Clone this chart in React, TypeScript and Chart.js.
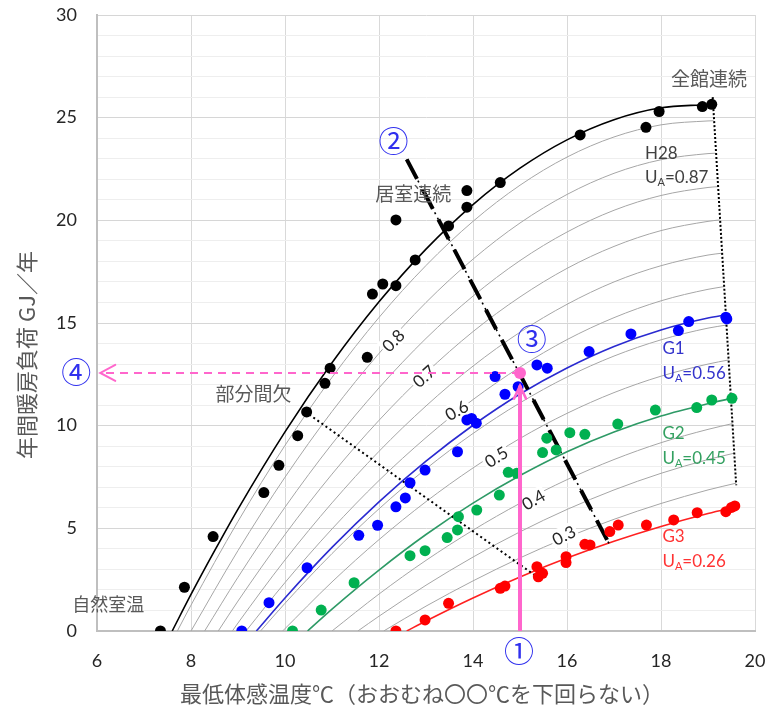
import React, { useEffect, useRef } from 'react';
import { Chart, registerables } from 'chart.js';
Chart.register(...registerables);

// ---------- measured points ----------
const h28Points: number[][] = [
  [7.35, 0], [7.86, 2.13], [8.47, 4.6], [9.55, 6.74], [9.87, 8.07], [10.27, 9.51], [10.46, 10.67],
  [10.85, 12.06], [10.96, 12.8], [11.75, 13.33], [11.86, 16.41], [12.08, 16.9], [12.36, 16.82],
  [12.77, 18.07], [12.36, 20.02], [13.48, 19.73], [13.87, 20.64], [13.87, 21.45], [14.58, 21.84],
  [16.28, 24.16], [17.68, 24.53], [17.96, 25.3], [18.88, 25.54], [19.08, 25.65],
];
const g1Points: number[][] = [
  [9.08, 0], [9.66, 1.38], [10.47, 3.08], [11.57, 4.66], [11.97, 5.15], [12.36, 6.05], [12.56, 6.48],
  [12.66, 7.22], [12.98, 7.84], [13.67, 8.73], [13.87, 10.28], [13.97, 10.35], [14.07, 10.12],
  [14.47, 12.39], [14.68, 11.53], [14.96, 11.9], [15.36, 12.96], [15.58, 12.8], [16.47, 13.61],
  [17.36, 14.47], [18.37, 14.63], [18.59, 15.07], [19.38, 15.28], [19.4, 15.2],
];
const g2Points: number[][] = [
  [10.16, 0], [10.77, 1.02], [11.47, 2.35], [12.66, 3.67], [12.98, 3.91], [13.45, 4.55], [13.67, 4.92],
  [13.69, 5.57], [14.08, 5.89], [14.56, 6.62], [14.75, 7.73], [14.93, 7.68], [15.48, 8.69], [15.57, 9.39],
  [15.77, 8.82], [16.06, 9.66], [16.38, 9.58], [17.08, 10.08], [17.88, 10.76], [18.76, 10.88],
  [19.08, 11.25], [19.51, 11.33],
];
const g3Points: number[][] = [
  [12.36, 0], [12.98, 0.54], [13.48, 1.35], [14.58, 2.08], [14.68, 2.19], [15.36, 3.13], [15.39, 2.64],
  [15.48, 2.81], [15.98, 3.62], [15.98, 3.33], [16.38, 4.22], [16.49, 4.19], [16.91, 4.84], [17.09, 5.16],
  [17.69, 5.16], [18.27, 5.41], [18.77, 5.76], [19.38, 5.81], [19.5, 6.02], [19.57, 6.09],
];

// ---------- fitted curves ----------
const fitH28: number[][] = [[7.6, 0], [8, 1.78], [8.5, 3.9], [9, 5.94], [10, 9.7], [11, 13.06], [12, 16.03], [13, 18.6], [14, 20.77], [15, 22.54], [16, 23.92], [17, 24.9], [18, 25.48], [19, 25.64], [19.1, 25.66]];
const fitG1: number[][] = [[9.39, 0], [10, 1.61], [11, 4.07], [12, 6.29], [13, 8.27], [14, 10.02], [15, 11.54], [16, 12.81], [17, 13.86], [18, 14.66], [19, 15.24], [19.4, 15.4]];
const fitG2: number[][] = [[10.48, 0], [11, 1.07], [12, 2.97], [13, 4.7], [14, 6.23], [15, 7.57], [16, 8.73], [17, 9.69], [18, 10.47], [19, 11.07], [19.5, 11.33]];
const fitG3: number[][] = [[12.59, 0], [13, 0.49], [14, 1.61], [15, 2.63], [16, 3.55], [17, 4.37], [18, 5.09], [19, 5.72], [19.6, 6.05]];

// ---------- iso-UA contour lines (gray) ----------
const ua085: number[][] = [[7.71, 0], [8, 1.26], [9, 5.34], [10, 9.04], [11, 12.35], [12, 15.27], [13, 17.8], [14, 19.95], [15, 21.71], [16, 23.08], [17, 24.06], [18, 24.65], [19, 24.84], [19.12, 24.85]];
const ua080: number[][] = [[8.0, 0], [9, 3.92], [10, 7.49], [11, 10.69], [12, 13.52], [13, 16.0], [14, 18.11], [15, 19.87], [16, 21.26], [17, 22.29], [18, 22.95], [19, 23.25], [19.16, 23.27]];
const ua075: number[][] = [[8.29, 0], [9, 2.62], [10, 6.03], [11, 9.11], [12, 11.84], [13, 14.25], [14, 16.31], [15, 18.04], [16, 19.43], [17, 20.49], [18, 21.21], [19, 21.6], [19.21, 21.64]];
const ua070: number[][] = [[8.58, 0], [9, 1.46], [10, 4.7], [11, 7.64], [12, 10.26], [13, 12.57], [14, 14.58], [15, 16.27], [16, 17.66], [17, 18.73], [18, 19.5], [19, 19.95], [19.25, 20.02]];
const ua065: number[][] = [[8.88, 0], [9, 0.39], [10, 3.46], [11, 6.24], [12, 8.75], [13, 10.96], [14, 12.9], [15, 14.55], [16, 15.91], [17, 17.0], [18, 17.79], [19, 18.31], [19.3, 18.4]];
const ua060: number[][] = [[9.17, 0], [10, 2.36], [11, 4.97], [12, 7.33], [13, 9.42], [14, 11.27], [15, 12.85], [16, 14.19], [17, 15.26], [18, 16.08], [19, 16.64], [19.34, 16.77]];
const ua055: number[][] = [[9.48, 0], [10, 1.35], [11, 3.77], [12, 5.95], [13, 7.9], [14, 9.62], [15, 11.11], [16, 12.37], [17, 13.39], [18, 14.18], [19, 14.75], [19.39, 14.9]];
const ua050: number[][] = [[9.95, 0], [11, 2.39], [12, 4.45], [13, 6.3], [14, 7.94], [15, 9.38], [16, 10.6], [17, 11.61], [18, 12.41], [19, 13.0], [19.44, 13.2]];
const ua040: number[][] = [[11.0, 0], [12, 1.8], [13, 3.44], [14, 4.91], [15, 6.22], [16, 7.37], [17, 8.35], [18, 9.17], [19, 9.82], [19.52, 10.1]];
const ua035: number[][] = [[11.55, 0], [12, 0.72], [13, 2.23], [14, 3.6], [15, 4.83], [16, 5.92], [17, 6.87], [18, 7.68], [19, 8.35], [19.56, 8.66]];
const ua030: number[][] = [[12.1, 0], [13, 1.21], [14, 2.44], [15, 3.56], [16, 4.56], [17, 5.44], [18, 6.21], [19, 6.87], [19.6, 7.2]];
const contours = [ua085, ua080, ua075, ua070, ua065, ua060, ua055, ua050, ua040, ua035, ua030];

// contour labels: text, x, y, angle(deg)
const contourLabels: [string, number, number, number][] = [
  ['0.8', 12.3, 14.16, -45], ['0.7', 12.95, 12.42, -42], ['0.6', 13.65, 10.76, -30],
  ['0.5', 14.49, 8.49, -32], ['0.4', 15.28, 6.41, -30], ['0.3', 15.93, 4.67, -27],
];

// ---------- guide lines ----------
const guideDashed: number[][] = [[12.59, 22.97], [16.91, 4.19]];
const guideRight: number[][] = [[19.1, 26.0], [19.6, 7.1]];
const guidePartial: number[][] = [[10.43, 10.68], [15.36, 2.64]];
const pinkUp: number[][] = [[15.0, 0], [15.0, 11.95]];
const pinkLeft: number[][] = [[15.0, 12.57], [6.07, 12.57]];
const pinkDot: number[][] = [[15.0, 12.57]];

const PINK = '#ff66cc';
const toXY = (a: number[][]) => a.map(([x, y]) => ({ x, y }));

function arrowHead(ctx: CanvasRenderingContext2D, x0: number, y0: number, x1: number, y1: number, len: number, half: number, color: string, width: number) {
  const ang = Math.atan2(y1 - y0, x1 - x0);
  const c = Math.cos(ang), s = Math.sin(ang);
  ctx.save();
  ctx.strokeStyle = color; ctx.lineWidth = width; ctx.lineCap = 'round'; ctx.lineJoin = 'miter';
  ctx.beginPath();
  ctx.moveTo(x1 - len * c + half * s, y1 - len * s - half * c);
  ctx.lineTo(x1, y1);
  ctx.lineTo(x1 - len * c - half * s, y1 - len * s + half * c);
  ctx.stroke();
  ctx.restore();
}

function drawUA(ctx: CanvasRenderingContext2D, x: number, y: number, val: string, color: string, size: number) {
  ctx.fillStyle = color; ctx.textAlign = 'left'; ctx.textBaseline = 'middle';
  ctx.font = `${size}px Lato`;
  ctx.fillText('U', x, y);
  const w = ctx.measureText('U').width;
  ctx.font = `${Math.round(size * 0.65)}px Lato`;
  ctx.fillText('A', x + w, y + size * 0.3);
  const w2 = ctx.measureText('A').width;
  ctx.font = `${size}px Lato`;
  ctx.fillText('=' + val, x + w + w2, y);
}

const overlay = {
  id: 'overlay',
  afterDatasetDraw(chart: any, args: any) {
    if (args.index !== 0) return;
    const { ctx, scales: { x, y } } = chart;
    ctx.save();
    ctx.font = '17px Lato';
    ctx.textAlign = 'center'; ctx.textBaseline = 'middle';
    for (const [t, lx, ly, ang] of contourLabels) {
      const px = x.getPixelForValue(lx), py = y.getPixelForValue(ly);
      ctx.save();
      ctx.translate(px, py);
      ctx.rotate((ang * Math.PI) / 180);
      const w = ctx.measureText(t).width;
      ctx.fillStyle = '#ffffff';
      ctx.fillRect(-w / 2 - 2, -9, w + 4, 18);
      ctx.fillStyle = '#262626';
      ctx.fillText(t, 0, 1);
      ctx.restore();
    }
    ctx.restore();
  },
  afterDatasetsDraw(chart: any) {
    const { ctx, scales: { x, y }, chartArea } = chart;
    const X = (v: number) => x.getPixelForValue(v);
    const Y = (v: number) => y.getPixelForValue(v);
    ctx.save();
    // arrowheads
    const u0 = pinkUp[0], u1 = pinkUp[pinkUp.length - 1];
    arrowHead(ctx, X(u0[0]), Y(u0[1]), X(u1[0]), Y(u1[1]), 13, 6, PINK, 2.5);
    const l0 = pinkLeft[0], l1 = pinkLeft[pinkLeft.length - 1];
    arrowHead(ctx, X(l0[0]), Y(l0[1]), X(l1[0]), Y(l1[1]), 15, 8, PINK, 2);

    // Japanese labels
    const jp = (t: string, lx: number, ly: number, size: number, color: string) => {
      ctx.font = `${size}px "Noto Sans CJK JP"`;
      ctx.fillStyle = color; ctx.textAlign = 'center'; ctx.textBaseline = 'middle';
      ctx.fillText(t, X(lx), Y(ly));
    };
    jp('全館連続', 19.02, 26.9, 19, '#595959');
    jp('居室連続', 12.73, 21.31, 19, '#595959');
    jp('部分間欠', 9.33, 11.57, 19, '#595959');
    jp('自然室温', 6.24, 1.32, 18, '#595959');

    // group labels
    ctx.font = '17px Lato'; ctx.textAlign = 'left'; ctx.textBaseline = 'middle';
    ctx.fillStyle = '#404040'; ctx.fillText('H28', X(17.66), Y(23.26));
    drawUA(ctx, X(17.66), Y(22.09), '0.87', '#404040', 17);
    ctx.font = '17px Lato'; ctx.fillStyle = '#3333cc'; ctx.fillText('G1', X(18.03), Y(13.74));
    drawUA(ctx, X(18.03), Y(12.54), '0.56', '#3333cc', 17);
    ctx.font = '17px Lato'; ctx.fillStyle = '#33a060'; ctx.fillText('G2', X(18.03), Y(9.6));
    drawUA(ctx, X(18.03), Y(8.4), '0.45', '#33a060', 17);
    ctx.font = '17px Lato'; ctx.fillStyle = '#ff3333'; ctx.fillText('G3', X(18.03), Y(4.6));
    drawUA(ctx, X(18.03), Y(3.39), '0.26', '#ff3333', 17);

    // circled numbers
    ctx.font = '30px "Noto Sans CJK JP"'; ctx.fillStyle = '#3030ee';
    ctx.textAlign = 'center'; ctx.textBaseline = 'middle';
    ctx.fillText('①', X(14.98), Y(-0.97));
    ctx.fillText('②', X(12.31), Y(23.88));
    ctx.fillText('③', X(15.25), Y(14.26));
    ctx.fillText('④', X(5.56), Y(12.62));

    // axis titles
    ctx.fillStyle = '#595959';
    ctx.font = '22px "Noto Sans CJK JP"';
    ctx.textAlign = 'center'; ctx.textBaseline = 'middle';
    ctx.fillText('最低体感温度℃（おおむね〇〇℃を下回らない）', (chartArea.left + chartArea.right) / 2 - 4, 694);
    ctx.save();
    ctx.translate(27, 355);
    ctx.rotate(-Math.PI / 2);
    ctx.fillText('年間暖房負荷 GJ／年', 0, 0);
    ctx.restore();
    ctx.restore();
  },
};

export default function App() {
  const ref = useRef<HTMLCanvasElement>(null);
  useEffect(() => {
    if (!ref.current) return;
    Chart.defaults.font.family = 'Lato';
    const line = (data: number[][], color: string, width: number, order: number, extra: any = {}) => ({
      type: 'scatter', data: toXY(data), showLine: true, borderColor: color, borderWidth: width,
      pointRadius: 0, pointHoverRadius: 0, fill: false, order, ...extra,
    });
    const pts = (data: number[][], color: string, r: number) => ({
      type: 'scatter', data: toXY(data), showLine: false, backgroundColor: color, borderColor: color,
      borderWidth: 0, pointRadius: r, pointHoverRadius: r, order: 1,
    });
    const smooth = { cubicInterpolationMode: 'monotone' };
    const datasets: any[] = [
      ...contours.map((c) => line(c, '#a6a6a6', 1, 100, smooth)),
      line(fitH28, '#000000', 1.6, 50, smooth),
      line(fitG1, '#2a2ad0', 1.6, 50, smooth),
      line(fitG2, '#2e9a66', 1.6, 50, smooth),
      line(fitG3, '#ff2020', 1.6, 50, smooth),
      line(guideRight, '#000000', 2, 40, { borderDash: [2, 2] }),
      line(guidePartial, '#000000', 2, 40, { borderDash: [2, 3] }),
      line(guideDashed, '#000000', 4, 30, { borderDash: [22, 12] }),
      line(guideDashed, '#000000', 1.6, 31, { borderDash: [2, 4] }),
      pts(h28Points, '#000000', 5.5),
      pts(g1Points, '#0000ff', 5.5),
      pts(g2Points, '#00b050', 5.5),
      pts(g3Points, '#ff0000', 5.5),
      line(pinkUp, PINK, 4, 0, {}),
      line(pinkLeft, PINK, 2, 0, { borderDash: [8, 6] }),
      { ...pts(pinkDot, PINK, 6), order: 0 },
    ];
    const chart = new Chart(ref.current, {
      type: 'scatter',
      data: { datasets },
      options: {
        animation: false,
        responsive: false,
        devicePixelRatio: 1,
        events: [],
        layout: { padding: { top: 15, right: 26, left: 0, bottom: 0 } },
        plugins: { legend: { display: false }, tooltip: { enabled: false } },
        scales: {
          x: {
            type: 'linear', min: 6, max: 20,
            afterFit: (s: any) => { s.height = 84; },
            ticks: { stepSize: 2, padding: 0, color: '#262626', font: { size: 18 }, autoSkip: false },
            grid: { color: '#d9d9d9', lineWidth: 1, drawTicks: true, tickLength: 19, tickColor: 'rgba(0,0,0,0)' },
            border: { color: '#bfbfbf', width: 2 },
          },
          y: {
            type: 'linear', min: 0, max: 30,
            afterFit: (s: any) => { s.width = 97; },
            ticks: {
              stepSize: 1, padding: 0, color: '#262626', font: { size: 18 }, autoSkip: false,
              callback: (v: any) => (v % 5 === 0 ? String(v) : ''),
            },
            grid: {
              color: (c: any) => (c.tick && c.tick.value % 5 === 0 ? '#d6d6d6' : '#eeeeee'),
              lineWidth: 1, drawTicks: true, tickLength: 20, tickColor: 'rgba(0,0,0,0)',
            },
            border: { color: '#bfbfbf', width: 2 },
          },
        },
      },
      plugins: [overlay],
    } as any);
    return () => chart.destroy();
  }, []);
  return (
    <div style={{ position: 'absolute', left: 0, top: 0, width: 781, height: 715, background: '#fff' }}>
      <canvas ref={ref} width={781} height={715} />
    </div>
  );
}
